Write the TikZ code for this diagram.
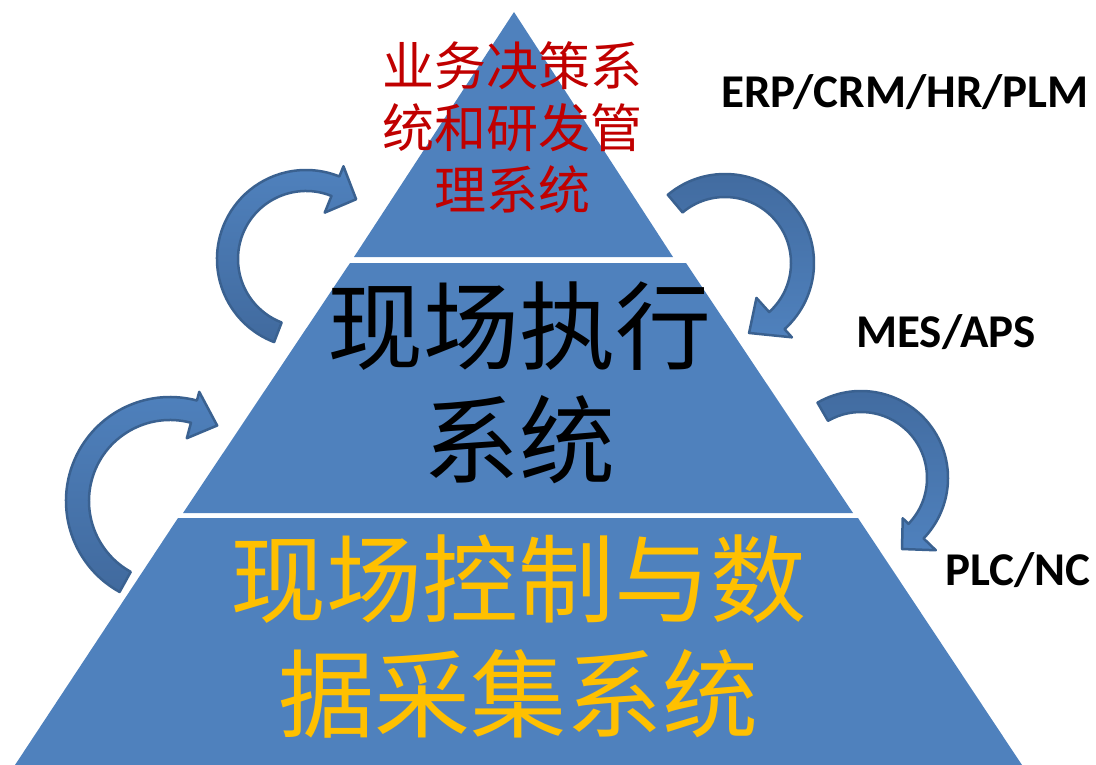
\documentclass[tikz,border=0pt]{standalone}
\usepackage{fontspec}
\setmainfont{Carlito}
\newfontfamily\cjk{Noto Sans CJK SC}
\definecolor{tierblue}{HTML}{4F81BD}
\definecolor{arrowlight}{HTML}{4F81BD}
\definecolor{arrowdark}{HTML}{416A9E}
\definecolor{arrowline}{HTML}{3A6190}
\definecolor{topred}{HTML}{C00000}
\definecolor{lowgold}{HTML}{FFC000}

\begin{document}
\begin{tikzpicture}[x=1pt,y=1pt,
	tier/.style={fill=tierblue},
	bendarrow/.style={ % 弯曲的箭头
		draw=arrowline, line width=2.5pt, line join=round
	},
	liftarrow/.style={bendarrow, top color=arrowlight, bottom color=arrowdark},
	droparrow/.style={bendarrow, top color=arrowdark, bottom color=arrowlight},
	tiertext/.style={align=center, inner sep=0pt},
	syslabel/.style={font=\bfseries\fontsize{47}{56}\selectfont, inner sep=0pt}
]
	\useasboundingbox (0,0) rectangle (1096,-765);
	%% 金字塔三层
	\coordinate (apex) at (514,-12);
	\fill[tier] (apex) -- (673,-257) -- (354,-257) -- cycle;
	\fill[tier] (350,-263) -- (686,-263) -- (853,-513) -- (183,-513) -- cycle;
	\fill[tier] (178,-518) -- (858,-518) -- (1022,-765) -- (15,-765) -- cycle;
	% 各层文字
	\node[tiertext, text=topred, font=\cjk\fontsize{52}{62}\selectfont]
		(decision) at (512,-128) {业务决策系\\统和研发管\\理系统};
	\node[tiertext, text=black, font=\cjk\fontsize{96}{114}\selectfont]
		(execution) at (519,-383) {现场执行\\系统};
	\node[tiertext, text=lowgold, font=\cjk\fontsize{96}{115}\selectfont]
		(control) at (518,-637) {现场控制与数\\据采集系统};
	% 右侧系统名称
	\node[syslabel] (erp) at (905,-92) {ERP/CRM/HR/PLM};
	\node[syslabel] (mes) at (946,-332) {MES/APS};
	\node[syslabel] (plc) at (1018,-570) {PLC/NC};
	%% 箭头的圆心
	\coordinate (c1) at (306,-259);
	\coordinate (c2) at (725,-263);
	\coordinate (c3) at (170,-501);
	\coordinate (c4) at (861,-478);
	% 左上
	\draw[liftarrow] ([shift={(249:89)}]c1) arc[start angle=249, end angle=68, radius=89]
		-- ([shift={(68:100)}]c1) -- ([shift={(50:78)}]c1) -- ([shift={(68:50)}]c1)
		-- ([shift={(68:68)}]c1) arc[start angle=68, end angle=249, radius=68] -- cycle;
	% 右上
	\draw[droparrow] ([shift={(130:89)}]c2) arc[start angle=130, end angle=-48, radius=89]
		-- ([shift={(-48:100)}]c2) -- ([shift={(-71:74)}]c2) -- ([shift={(-48:47)}]c2)
		-- ([shift={(-48:66)}]c2) arc[start angle=-48, end angle=130, radius=66] -- cycle;
	% 左下
	\draw[liftarrow] ([shift={(241:104)}]c3) arc[start angle=241, end angle=75, radius=104]
		-- ([shift={(75:113)}]c3) -- ([shift={(58:89)}]c3) -- ([shift={(75:65)}]c3)
		-- ([shift={(75:81)}]c3) arc[start angle=75, end angle=241, radius=81] -- cycle;
	% 右下
	\draw[droparrow] ([shift={(120:87)}]c4) arc[start angle=120, end angle=-44, radius=87]
		-- ([shift={(-44:104)}]c4) -- ([shift={(-60:82)}]c4) -- ([shift={(-44:58)}]c4)
		-- ([shift={(-44:66)}]c4) arc[start angle=-44, end angle=120, radius=66] -- cycle;
\end{tikzpicture}
\end{document}
